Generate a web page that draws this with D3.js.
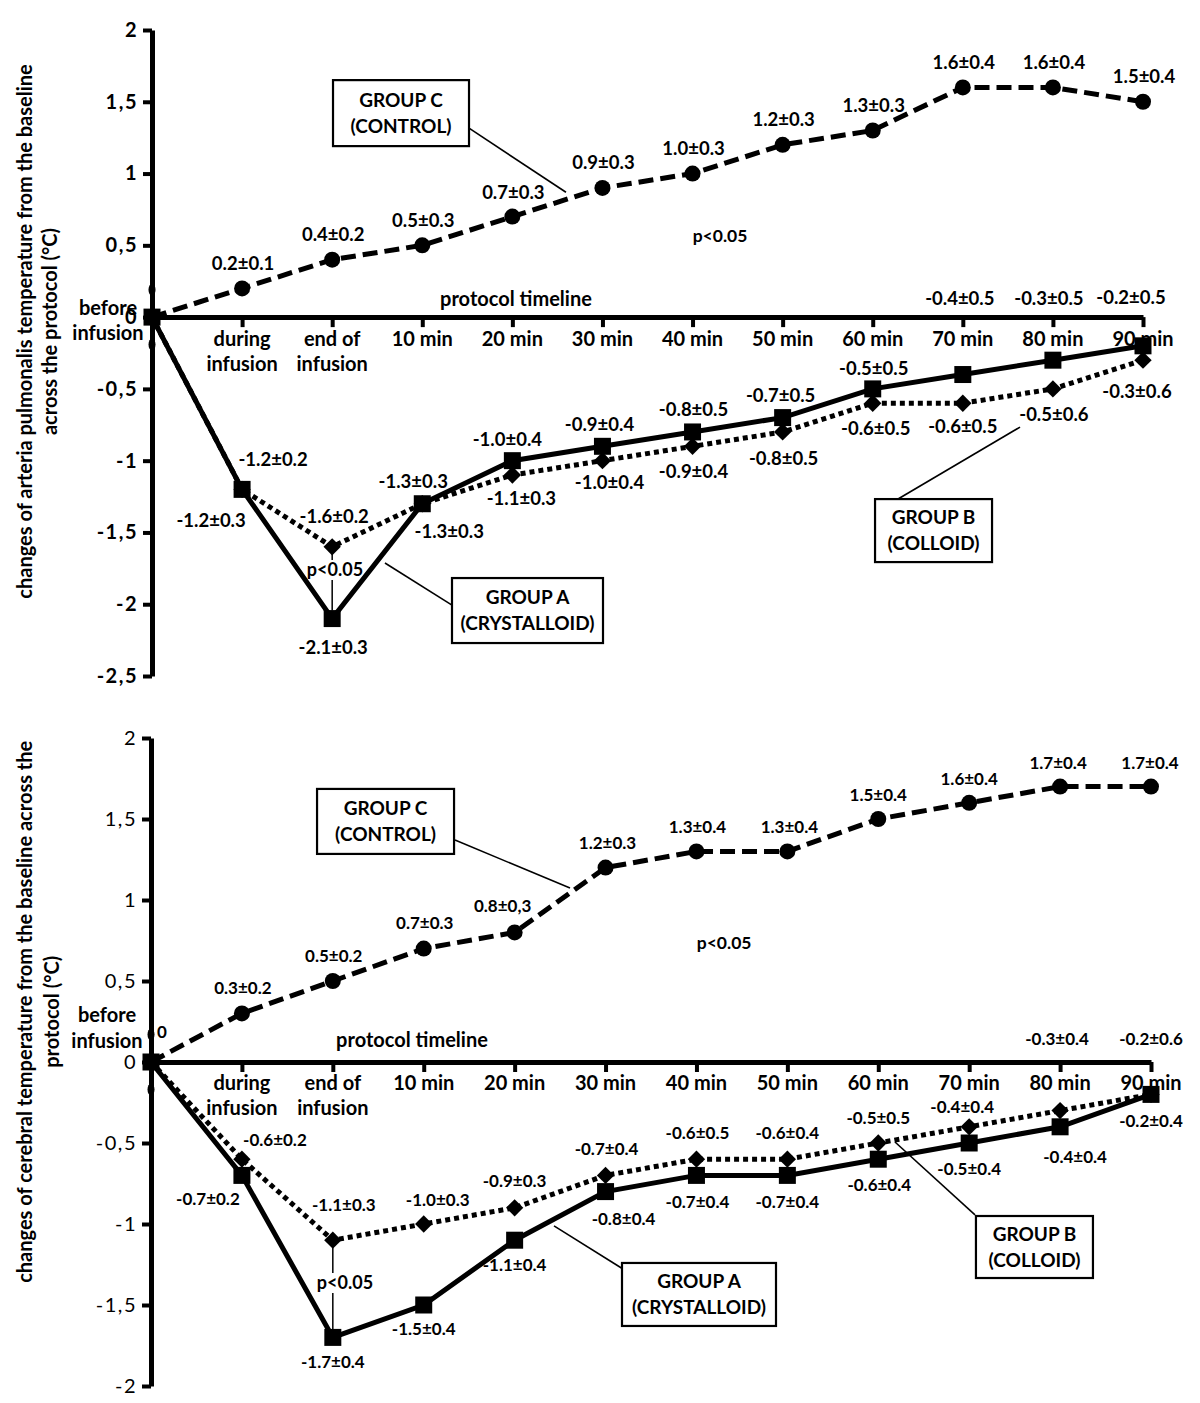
<!DOCTYPE html>
<html><head><meta charset="utf-8">
<script src="https://cdn.jsdelivr.net/npm/d3@7"></script>
<style>
html,body{margin:0;padding:0;background:#fff;}
svg{display:block;}
text{font-family:Lato,"Open Sans",sans-serif;fill:#000;}
</style></head>
<body>
<svg id="chart" width="1200" height="1403"></svg>
<script>
// ---------------- DATA ----------------
const categories = ["before infusion","during infusion","end of infusion","10 min","20 min","30 min","40 min","50 min","60 min","70 min","80 min","90 min"];
const categoryLines = [["before","infusion"],["during","infusion"],["end of","infusion"],["10 min"],["20 min"],["30 min"],["40 min"],["50 min"],["60 min"],["70 min"],["80 min"],["90 min"]];

// Panel 1: arteria pulmonalis
const paTicks = [-2.5,-2,-1.5,-1,-0.5,0,0.5,1,1.5,2];
const paControl = [0,0.2,0.4,0.5,0.7,0.9,1.0,1.2,1.3,1.6,1.6,1.5];
const paControlLabels = ["","0.2±0.1","0.4±0.2","0.5±0.3","0.7±0.3","0.9±0.3","1.0±0.3","1.2±0.3","1.3±0.3","1.6±0.4","1.6±0.4","1.5±0.4"];
const paCrystalloid = [0,-1.2,-2.1,-1.3,-1.0,-0.9,-0.8,-0.7,-0.5,-0.4,-0.3,-0.2];
const paCrystalloidLabels = ["","-1.2±0.3","-2.1±0.3","-1.3±0.3","-1.0±0.4","-0.9±0.4","-0.8±0.5","-0.7±0.5","-0.5±0.5","-0.4±0.5","-0.3±0.5","-0.2±0.5"];
const paColloid = [0,-1.2,-1.6,-1.3,-1.1,-1.0,-0.9,-0.8,-0.6,-0.6,-0.5,-0.3];
const paColloidLabels = ["","-1.2±0.2","-1.6±0.2","-1.3±0.3","-1.1±0.3","-1.0±0.4","-0.9±0.4","-0.8±0.5","-0.6±0.5","-0.6±0.5","-0.5±0.6","-0.3±0.6"];
const paBaselineSpread = 0.19;

// Panel 2: cerebral
const ceTicks = [-2,-1.5,-1,-0.5,0,0.5,1,1.5,2];
const ceControl = [0,0.3,0.5,0.7,0.8,1.2,1.3,1.3,1.5,1.6,1.7,1.7];
const ceControlLabels = ["0","0.3±0.2","0.5±0.2","0.7±0.3","0.8±0,3","1.2±0.3","1.3±0.4","1.3±0.4","1.5±0.4","1.6±0.4","1.7±0.4","1.7±0.4"];
const ceCrystalloid = [0,-0.7,-1.7,-1.5,-1.1,-0.8,-0.7,-0.7,-0.6,-0.5,-0.4,-0.2];
const ceCrystalloidLabels = ["","-0.7±0.2","-1.7±0.4","-1.5±0.4","-1.1±0.4","-0.8±0.4","-0.7±0.4","-0.7±0.4","-0.6±0.4","-0.5±0.4","-0.4±0.4","-0.2±0.4"];
const ceColloid = [0,-0.6,-1.1,-1.0,-0.9,-0.7,-0.6,-0.6,-0.5,-0.4,-0.3,-0.2];
const ceColloidLabels = ["","-0.6±0.2","-1.1±0.3","-1.0±0.3","-0.9±0.3","-0.7±0.4","-0.6±0.5","-0.6±0.4","-0.5±0.5","-0.4±0.4","-0.3±0.4","-0.2±0.6"];
const ceBaselineSpread = 0.17;

// ---------------- LAYOUT (label offsets in px, annotation anchors in data units) ----------------
const paOffC = [null,[1,-25],[1,-25],[1,-25],[1,-24],[1,-25],[1,-25],[1,-25],[1,-25],[1,-25],[1,-25],[1,-25]];
const paOffA = [null,[-31,31],[1,29],[-9,-22],[-5,-21],[-3,-22],[1,-22],[-2,-22],[1,-20],[-3,-76],[-4,-62],[-12,-48]];
const paOffB = [null,[31,-30],[2,-30],[27,28],[9,24],[7,22],[1,25],[1,27],[3,25],[0,23],[1,26],[-6,31]];
const ceOffC = [[11,-30],[1,-25],[1,-25],[1,-26],[-12,-26],[2,-25],[1,-24],[2,-24],[0,-24],[0,-24],[-2,-24],[-1,-24]];
const ceOffA = [null,[-34,24],[0,25],[0,24],[0,25],[18,27],[1,27],[0,27],[1,26],[0,26],[15,30],[0,27]];
const ceOffB = [null,[33,-19],[11,-35],[14,-24],[0,-27],[1,-26],[1,-26],[0,-26],[0,-25],[-7,-20],[-3,-72],[0,-55]];

const panels = [
  {
    xRange:[152,1143], yDomain:[-2.5,2], yRange:[676,30], ticks:paTicks, tickWeight:"bold",
    control:paControl, controlLabels:paControlLabels, offC:paOffC,
    crystalloid:paCrystalloid, crystalloidLabels:paCrystalloidLabels, offA:paOffA,
    colloid:paColloid, colloidLabels:paColloidLabels, offB:paOffB,
    spread:paBaselineSpread, labelSize:18.5, catDy:[22,47], beforeDy:[-9,16],
    title:["changes of arteria pulmonalis temperature from the baseline","across the protocol (°C)"],
    titleX:[25,50], titleYv:-0.1,
    boxes:[
      {i:2.764,v:1.421,w:136,h:66,lines:["GROUP C","(CONTROL)"],from:[3.519,1.316],to:[4.595,0.870]},
      {i:4.168,v:-2.044,w:151,h:65,lines:["GROUP A","(CRYSTALLOID)"],from:[3.330,-2.006],to:[2.586,-1.713]},
      {i:8.675,v:-1.487,w:117,h:63,lines:["GROUP B","(COLLOID)"],from:[8.281,-1.267],to:[9.635,-0.766]}
    ],
    pText:{i:6.305,v:0.564}, timeline:{i:4.040,v:0.125}, pLow:{i:2.031,v:-1.762}
  },
  {
    xRange:[151,1151], yDomain:[-2,2], yRange:[1386,738], ticks:ceTicks, tickWeight:"normal",
    control:ceControl, controlLabels:ceControlLabels, offC:ceOffC,
    crystalloid:ceCrystalloid, crystalloidLabels:ceCrystalloidLabels, offA:ceOffA,
    colloid:ceColloid, colloidLabels:ceColloidLabels, offB:ceOffB,
    spread:ceBaselineSpread, labelSize:17, catDy:[21,46], beforeDy:[-47,-21],
    title:["changes of cerebral temperature from the baseline across the","protocol (°C)"],
    titleX:[25,52], titleYv:0.31,
    boxes:[
      {i:2.580,v:1.485,w:137,h:65,lines:["GROUP C","(CONTROL)"],from:[3.344,1.370],to:[4.609,1.074]},
      {i:6.028,v:-1.435,w:154,h:63,lines:["GROUP A","(CRYSTALLOID)"],from:[5.192,-1.278],to:[4.433,-1.012]},
      {i:9.718,v:-1.142,w:117,h:62,lines:["GROUP B","(COLLOID)"],from:[9.064,-0.944],to:[8.184,-0.494]}
    ],
    pText:{i:6.304,v:0.735}, timeline:{i:2.871,v:0.136}, pLow:{i:2.134,v:-1.364}
  }
];

const svg = d3.select("#chart");
svg.append("rect").attr("width",1200).attr("height",1403).attr("fill","#fff");

function drawPanel(p){
  const g = svg.append("g");
  const x = d3.scalePoint().domain(categories).range(p.xRange);
  const xi = d3.scaleLinear().domain([0,categories.length-1]).range(p.xRange);
  const y = d3.scaleLinear().domain(p.yDomain).range(p.yRange);
  const y0 = y(0), x0 = x(categories[0]);
  const fmt = v => String(v).replace(".", ",");

  // Y axis
  const ya = g.append("g").attr("transform",`translate(${x0},0)`)
    .call(d3.axisLeft(y).tickValues(p.ticks).tickSize(9).tickSizeOuter(0).tickPadding(5).tickFormat(fmt));
  ya.select(".domain").attr("stroke","#000").attr("stroke-width",5);
  ya.selectAll(".tick line").attr("stroke","#000").attr("stroke-width",4);
  ya.selectAll(".tick text").attr("font-size",20).attr("font-weight",p.tickWeight)
    .attr("font-family","Lato, sans-serif").attr("fill","#000").attr("letter-spacing",1.5);

  // X axis at zero
  const xa = g.append("g").attr("transform",`translate(0,${y0})`)
    .call(d3.axisBottom(x).tickSize(10).tickSizeOuter(0).tickFormat(""));
  xa.select(".domain").attr("stroke","#000").attr("stroke-width",5);
  xa.selectAll(".tick line").attr("stroke","#000").attr("stroke-width",4)
    .filter(d => d === categories[0]).remove();

  // category labels
  categories.forEach((c,i)=>{
    const lines = categoryLines[i];
    lines.forEach((ln,k)=>{
      const xx = i===0 ? x(c)-44 : x(c);
      const yy = i===0 ? y0+p.beforeDy[k] : y0+p.catDy[k];
      g.append("text").attr("x",xx).attr("y",yy).attr("dy","0.35em")
        .attr("text-anchor","middle").attr("font-size",20).attr("font-weight","bold").text(ln);
    });
  });

  // axis title
  const tyc = y(p.titleYv);
  p.title.forEach((t,k)=>{
    g.append("text").attr("transform",`translate(${p.titleX[k]},${tyc}) rotate(-90)`)
      .attr("dy","0.35em").attr("text-anchor","middle").attr("font-size",20).attr("font-weight","bold").text(t);
  });

  // baseline error caps
  [p.spread,-p.spread].forEach(s=>{
    g.append("ellipse").attr("cx",x0).attr("cy",y(s)).attr("rx",3.5).attr("ry",6).attr("fill","#000");
  });

  // annotations: boxes & connectors
  p.boxes.forEach(b=>{
    g.append("line").attr("x1",xi(b.from[0])).attr("y1",y(b.from[1])).attr("x2",xi(b.to[0])).attr("y2",y(b.to[1]))
      .attr("stroke","#000").attr("stroke-width",1.6);
    const cx = xi(b.i), cy = y(b.v);
    g.append("rect").attr("x",cx-b.w/2).attr("y",cy-b.h/2).attr("width",b.w).attr("height",b.h)
      .attr("fill","#fff").attr("stroke","#000").attr("stroke-width",2.2);
    b.lines.forEach((ln,k)=>{
      g.append("text").attr("x",cx).attr("y",cy+(k===0?-13:13)).attr("dy","0.35em")
        .attr("text-anchor","middle").attr("font-size",19).attr("font-weight","bold").text(ln);
    });
  });

  // texts
  g.append("text").attr("x",xi(p.pText.i)).attr("y",y(p.pText.v)).attr("dy","0.35em")
    .attr("text-anchor","middle").attr("font-size",17.5).attr("font-weight","bold").text("p<0.05");
  g.append("text").attr("x",xi(p.timeline.i)).attr("y",y(p.timeline.v)).attr("dy","0.35em")
    .attr("text-anchor","middle").attr("font-size",20).attr("font-weight","bold").text("protocol timeline");

  // p<0.05 between groups at end of infusion
  const ci = 2, lx = x(categories[ci]);
  const pY = y(p.pLow.v);
  g.append("line").attr("x1",lx).attr("x2",lx).attr("y1",y(p.colloid[ci])+7).attr("y2",pY-10).attr("stroke","#000").attr("stroke-width",1.5);
  g.append("line").attr("x1",lx).attr("x2",lx).attr("y1",pY+10).attr("y2",y(p.crystalloid[ci])-8).attr("stroke","#000").attr("stroke-width",1.5);
  g.append("text").attr("x",xi(p.pLow.i)).attr("y",pY).attr("dy","0.35em")
    .attr("text-anchor","middle").attr("font-size",18).attr("font-weight","bold").text("p<0.05");

  // lines
  const line = d3.line().x((d,i)=>x(categories[i])).y(d=>y(d));
  g.append("path").datum(p.colloid).attr("d",line).attr("fill","none").attr("stroke","#000")
    .attr("stroke-width",5).attr("stroke-dasharray","5,4");
  g.append("path").datum(p.crystalloid).attr("d",line).attr("fill","none").attr("stroke","#000")
    .attr("stroke-width",5);
  g.append("path").datum(p.control).attr("d",line).attr("fill","none").attr("stroke","#000")
    .attr("stroke-width",5).attr("stroke-dasharray","15,7");

  // markers
  g.selectAll(".mB").data(p.colloid).join("path").attr("class","mB")
    .attr("d",d3.symbol().type(d3.symbolSquare).size(150)())
    .attr("transform",(d,i)=>`translate(${x(categories[i])},${y(d)}) rotate(45)`).attr("fill","#000");
  g.selectAll(".mC").data(p.control).join("circle").attr("class","mC")
    .attr("cx",(d,i)=>x(categories[i])).attr("cy",d=>y(d)).attr("r",8).attr("fill","#000");
  g.selectAll(".mA").data(p.crystalloid).join("path").attr("class","mA")
    .attr("d",d3.symbol().type(d3.symbolSquare).size(289)())
    .attr("transform",(d,i)=>`translate(${x(categories[i])},${y(d)})`).attr("fill","#000");

  // value labels
  function labels(vals, texts, offs){
    vals.forEach((v,i)=>{
      if(!texts[i] || !offs[i]) return;
      g.append("text").attr("x",x(categories[i])+offs[i][0]).attr("y",y(v)+offs[i][1]).attr("dy","0.35em")
        .attr("text-anchor","middle").attr("font-size",p.labelSize).attr("font-weight","bold").text(texts[i]);
    });
  }
  labels(p.control,p.controlLabels,p.offC);
  labels(p.crystalloid,p.crystalloidLabels,p.offA);
  labels(p.colloid,p.colloidLabels,p.offB);
}

panels.forEach(drawPanel);
</script>
</body></html>
